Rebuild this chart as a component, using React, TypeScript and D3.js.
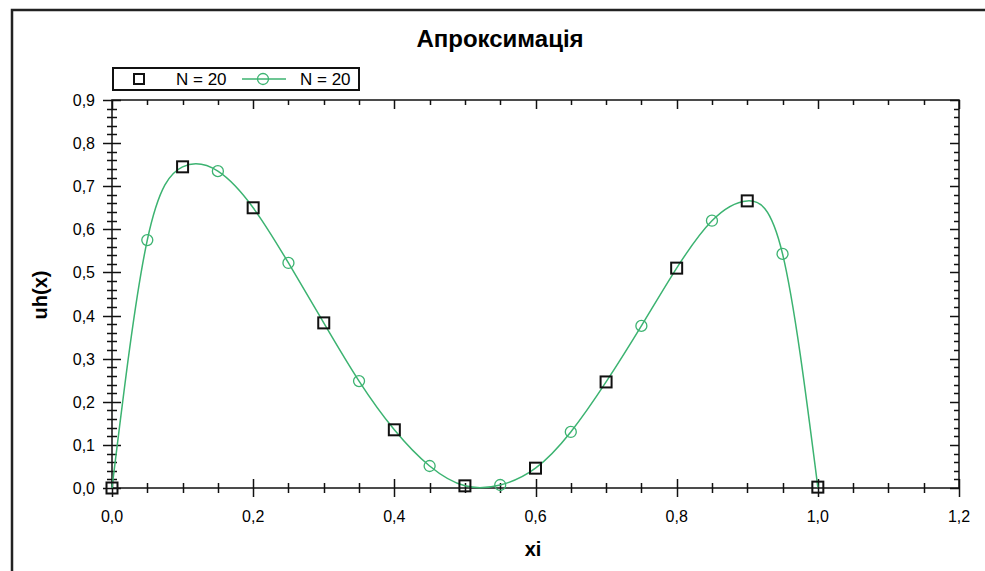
import * as d3 from 'd3';
import { useEffect, useRef } from 'react';

const title = 'Апроксимація';
const xLabel = 'xi';
const yLabel = 'uh(x)';
const legendLabels = ['N = 20', 'N = 20'];

// square markers (step 0.1)
const squareXi = [0, 0.1, 0.2, 0.3, 0.4, 0.5, 0.6, 0.7, 0.8, 0.9, 1.0];
const squareUh = [0.0, 0.745, 0.65, 0.383, 0.135, 0.005, 0.046, 0.246, 0.51, 0.666, 0.002];

// circle markers (midpoints)
const circleXi = [0.05, 0.15, 0.25, 0.35, 0.45, 0.55, 0.65, 0.75, 0.85, 0.95];
const circleUh = [0.575, 0.735, 0.522, 0.248, 0.051, 0.007, 0.13, 0.376, 0.62, 0.543];

const xTicks = [0, 0.2, 0.4, 0.6, 0.8, 1.0, 1.2];
const yTicks = [0, 0.1, 0.2, 0.3, 0.4, 0.5, 0.6, 0.7, 0.8, 0.9];

const W = 985;
const H = 571;
const GREEN = '#3cb371';
const FONT = '"Liberation Sans", Arial, sans-serif';

export default function App() {
  const ref = useRef<SVGSVGElement | null>(null);

  useEffect(() => {
    const svg = d3.select(ref.current);
    svg.selectAll('*').remove();

    const x = d3.scaleLinear().domain([0, 1.2]).range([112, 959]);
    const y = d3.scaleLinear().domain([0, 0.9]).range([488, 100]);
    const fmt = (v: number) => d3.format('.1f')(v).replace('.', ',');

    // outer frame
    svg.append('rect').attr('width', W).attr('height', H).attr('fill', '#fff');
    svg
      .append('path')
      .attr('d', `M12,${H + 5}V10H${W + 5}`)
      .attr('fill', 'none')
      .attr('stroke', '#222')
      .attr('stroke-width', 2.5);

    // title
    svg
      .append('text')
      .attr('x', 500)
      .attr('y', 47)
      .attr('text-anchor', 'middle')
      .attr('font-family', FONT)
      .attr('font-weight', 'bold')
      .attr('font-size', 24)
      .text(title);

    // plot box
    const [x0, x1] = x.range();
    const [y0, y1] = y.range();
    svg
      .append('rect')
      .attr('x', x0)
      .attr('y', y1)
      .attr('width', x1 - x0)
      .attr('height', y0 - y1)
      .attr('fill', 'none')
      .attr('stroke', '#111')
      .attr('stroke-width', 1.5);

    const ticks = svg.append('g').attr('stroke', '#111').attr('stroke-width', 1.5);
    const xMinor = d3.range(0, 1.2001, 0.05);
    const yMinor = d3.range(0, 0.9001, 0.02);
    const isMajor = (v: number, step: number) => Math.abs(v / step - Math.round(v / step)) < 1e-6;

    xMinor.forEach((v) => {
      const major = isMajor(v, 0.2);
      const px = Math.round(x(v)) + 0.5;
      ticks.append('line').attr('x1', px).attr('x2', px).attr('y1', y0 - (major ? 9 : 5)).attr('y2', y0 + (major ? 9 : 5));
      ticks.append('line').attr('x1', px).attr('x2', px).attr('y1', y1).attr('y2', y1 + (major ? 9 : 5));
    });
    yMinor.forEach((v) => {
      const major = isMajor(v, 0.1);
      const py = Math.round(y(v)) + 0.5;
      ticks.append('line').attr('x1', x0 - (major ? 9 : 5)).attr('x2', x0 + (major ? 9 : 5)).attr('y1', py).attr('y2', py);
      ticks.append('line').attr('x1', x1 - (major ? 9 : 5)).attr('x2', x1).attr('y1', py).attr('y2', py);
    });

    // tick labels
    svg
      .append('g')
      .selectAll('text')
      .data(xTicks)
      .enter()
      .append('text')
      .attr('x', (d) => x(d))
      .attr('y', 522)
      .attr('text-anchor', 'middle')
      .attr('font-family', FONT)
      .attr('font-size', 16)
      .text((d) => fmt(d));
    svg
      .append('g')
      .selectAll('text')
      .data(yTicks)
      .enter()
      .append('text')
      .attr('x', 95)
      .attr('y', (d) => y(d) + 6)
      .attr('text-anchor', 'end')
      .attr('font-family', FONT)
      .attr('font-size', 16)
      .text((d) => fmt(d));

    // axis titles
    svg
      .append('text')
      .attr('x', 533)
      .attr('y', 556)
      .attr('text-anchor', 'middle')
      .attr('font-family', FONT)
      .attr('font-weight', 'bold')
      .attr('font-size', 20)
      .text(xLabel);
    svg
      .append('text')
      .attr('transform', 'translate(47,295) rotate(-90)')
      .attr('text-anchor', 'middle')
      .attr('font-family', FONT)
      .attr('font-weight', 'bold')
      .attr('font-size', 20)
      .text(yLabel);

    // curve through all points
    const pts: [number, number][] = [
      ...squareXi.map((v, i) => [v, squareUh[i]] as [number, number]),
      ...circleXi.map((v, i) => [v, circleUh[i]] as [number, number]),
    ].sort((a, b) => a[0] - b[0]);
    const line = d3
      .line<[number, number]>()
      .x((d) => x(d[0]))
      .y((d) => y(d[1]))
      .curve(d3.curveNatural);
    svg
      .append('path')
      .datum(pts)
      .attr('d', line)
      .attr('fill', 'none')
      .attr('stroke', GREEN)
      .attr('stroke-width', 1.5);

    // circles
    svg
      .append('g')
      .selectAll('circle')
      .data(circleXi)
      .enter()
      .append('circle')
      .attr('cx', (d) => x(d))
      .attr('cy', (d, i) => y(circleUh[i]))
      .attr('r', 5.5)
      .attr('fill', 'none')
      .attr('stroke', GREEN)
      .attr('stroke-width', 1.3);

    // squares
    const sq = 11;
    svg
      .append('g')
      .selectAll('rect')
      .data(squareXi)
      .enter()
      .append('rect')
      .attr('x', (d) => x(d) - sq / 2)
      .attr('y', (d, i) => y(squareUh[i]) - sq / 2)
      .attr('width', sq)
      .attr('height', sq)
      .attr('fill', 'none')
      .attr('stroke', '#111')
      .attr('stroke-width', 2);

    // legend
    const lg = svg.append('g');
    lg.append('rect')
      .attr('x', 113)
      .attr('y', 68)
      .attr('width', 246)
      .attr('height', 22)
      .attr('fill', '#fff')
      .attr('stroke', '#111')
      .attr('stroke-width', 2);
    lg.append('rect')
      .attr('x', 134)
      .attr('y', 74)
      .attr('width', 10)
      .attr('height', 10)
      .attr('fill', 'none')
      .attr('stroke', '#111')
      .attr('stroke-width', 2);
    lg.append('line')
      .attr('x1', 242)
      .attr('x2', 286)
      .attr('y1', 79)
      .attr('y2', 79)
      .attr('stroke', GREEN)
      .attr('stroke-width', 1.5);
    lg.append('circle').attr('cx', 263).attr('cy', 79).attr('r', 5.5).attr('fill', 'none').attr('stroke', GREEN).attr('stroke-width', 1.3);
    lg.selectAll('text.lbl')
      .data(legendLabels)
      .enter()
      .append('text')
      .attr('x', (d, i) => (i === 0 ? 176 : 300))
      .attr('y', 85)
      .attr('font-family', FONT)
      .attr('font-size', 17)
      .text((d) => d);
  }, []);

  return (
    <svg
      ref={ref}
      width={W}
      height={H}
      style={{ position: 'absolute', left: 0, top: 0 }}
      role="img"
      aria-label={title}
    />
  );
}
